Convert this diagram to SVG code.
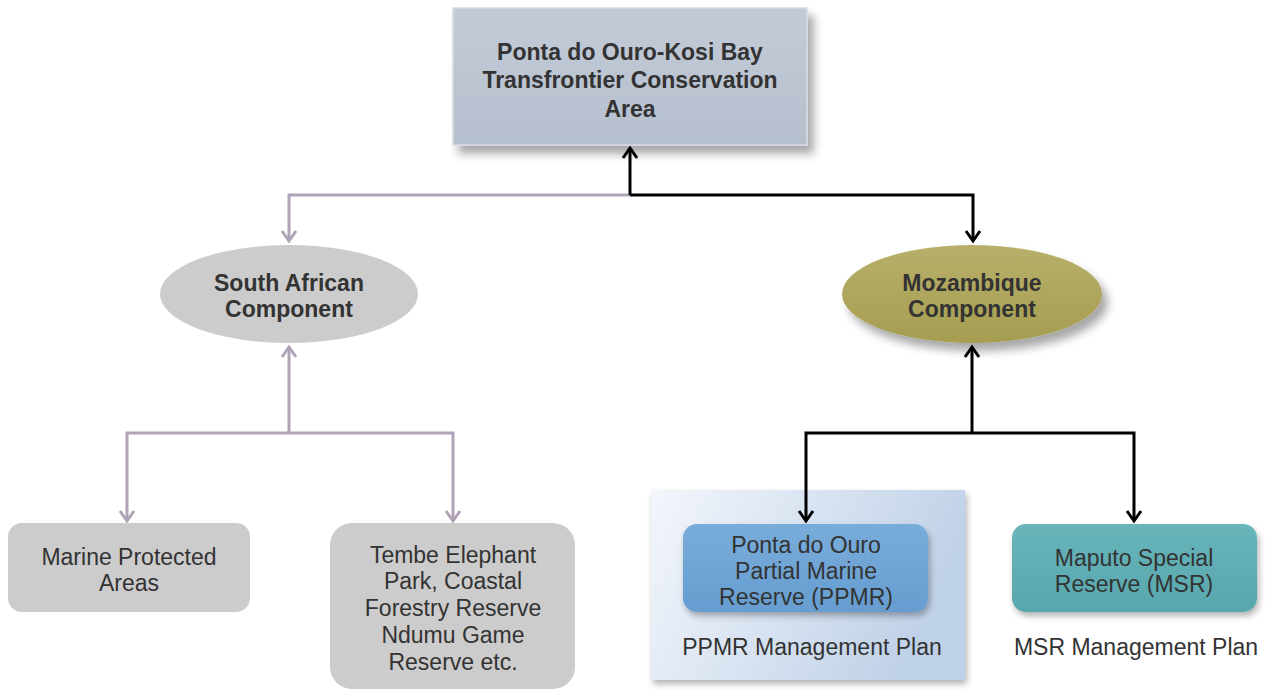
<svg xmlns="http://www.w3.org/2000/svg" width="1270" height="690" viewBox="0 0 1270 690">
<defs>
<style>
text{font-family:"Liberation Sans",Arial,sans-serif;text-anchor:middle;fill:#333333}
.b{font-weight:bold;font-size:23px}
.r{font-size:23px}
.grey{fill:none;stroke:#b0a3b7;stroke-width:3}
.blk{fill:none;stroke:#000;stroke-width:3}
</style>
<filter id="sh" x="-20%" y="-20%" width="150%" height="160%">
<feGaussianBlur in="SourceAlpha" stdDeviation="5"/>
<feOffset dx="6" dy="8" result="o"/>
<feComponentTransfer><feFuncA type="linear" slope="0.35"/></feComponentTransfer>
<feMerge><feMergeNode/><feMergeNode in="SourceGraphic"/></feMerge>
</filter>
<filter id="sh2" x="-20%" y="-20%" width="150%" height="160%">
<feGaussianBlur in="SourceAlpha" stdDeviation="3"/>
<feOffset dx="2" dy="4" result="o"/>
<feComponentTransfer><feFuncA type="linear" slope="0.3"/></feComponentTransfer>
<feMerge><feMergeNode/><feMergeNode in="SourceGraphic"/></feMerge>
</filter>
<linearGradient id="gTop" x1="0" y1="0" x2="0" y2="1"><stop offset="0" stop-color="#c3cbd8"/><stop offset="1" stop-color="#b6bfcd"/></linearGradient>
<linearGradient id="gMoz" x1="0" y1="0" x2="0" y2="1"><stop offset="0" stop-color="#b8b06a"/><stop offset="1" stop-color="#a59d50"/></linearGradient>
<linearGradient id="gPanel" x1="0" y1="0" x2="1" y2="0.3"><stop offset="0" stop-color="#f3f6fb"/><stop offset="1" stop-color="#bfd1e8"/></linearGradient>
<linearGradient id="gPP" x1="0" y1="0" x2="0" y2="1"><stop offset="0" stop-color="#78acda"/><stop offset="1" stop-color="#669dd0"/></linearGradient>
<linearGradient id="gMS" x1="0" y1="0" x2="0" y2="1"><stop offset="0" stop-color="#68b5ba"/><stop offset="1" stop-color="#57a7ad"/></linearGradient>
<marker id="ag" markerUnits="userSpaceOnUse" markerWidth="20" markerHeight="20" viewBox="0 0 20 20" refX="14" refY="10" orient="auto">
<path d="M4,3 L14,10 L4,17" fill="none" stroke="#b0a3b7" stroke-width="3"/>
</marker>
<marker id="ab" markerUnits="userSpaceOnUse" markerWidth="20" markerHeight="20" viewBox="0 0 20 20" refX="14" refY="10" orient="auto">
<path d="M4,3 L14,10 L4,17" fill="none" stroke="#000" stroke-width="3"/>
</marker>
</defs>
<rect width="1270" height="690" fill="#ffffff"/>

<g id="panel">
<rect x="651" y="490" width="314" height="190" fill="url(#gPanel)" filter="url(#sh2)"/>
</g>

<g id="connectors">
<path class="grey" d="M630,195 H289 V241" marker-end="url(#ag)"/>
<path class="blk" d="M630,195 V148" marker-end="url(#ab)"/>
<path class="blk" d="M630,195 H973 V241" marker-end="url(#ab)"/>
<path class="grey" d="M289,433 V347" marker-end="url(#ag)"/>
<path class="grey" d="M289,433 H127 V521" marker-end="url(#ag)"/>
<path class="grey" d="M289,433 H453 V521" marker-end="url(#ag)"/>
<path class="blk" d="M972,433 V347" marker-end="url(#ab)"/>
<path class="blk" d="M972,433 H806 V521" marker-end="url(#ab)"/>
<path class="blk" d="M972,433 H1134 V521" marker-end="url(#ab)"/>
</g>

<g id="top">
<rect x="453" y="8" width="354" height="137" fill="url(#gTop)" stroke="#d5dbe4" stroke-width="1.5" filter="url(#sh)"/>
<text class="b" x="630" y="60">Ponta do Ouro-Kosi Bay</text>
<text class="b" x="630" y="88">Transfrontier Conservation</text>
<text class="b" x="630" y="117">Area</text>
</g>

<g id="sa">
<ellipse cx="289" cy="294" rx="129" ry="49" fill="#cccccc"/>
<text class="b" x="289" y="291">South African</text>
<text class="b" x="289" y="317">Component</text>
</g>

<g id="moz">
<ellipse cx="972" cy="294" rx="130" ry="49" fill="url(#gMoz)" filter="url(#sh)"/>
<text class="b" x="972" y="291">Mozambique</text>
<text class="b" x="972" y="317">Component</text>
</g>

<g id="mpa">
<rect x="8" y="523" width="242" height="89" rx="14" fill="#cccccc"/>
<text class="r" x="129" y="565">Marine Protected</text>
<text class="r" x="129" y="591">Areas</text>
</g>

<g id="tembe">
<rect x="330" y="523" width="245" height="166" rx="22" fill="#cccccc"/>
<text class="r" x="453" y="563">Tembe Elephant</text>
<text class="r" x="453" y="589">Park, Coastal</text>
<text class="r" x="453" y="616">Forestry Reserve</text>
<text class="r" x="453" y="643">Ndumu Game</text>
<text class="r" x="453" y="670">Reserve etc.</text>
</g>

<g id="ppmr">
<rect x="683" y="524" width="245" height="88" rx="14" fill="url(#gPP)" filter="url(#sh2)"/>
<text class="r" x="806" y="553">Ponta do Ouro</text>
<text class="r" x="806" y="579">Partial Marine</text>
<text class="r" x="806" y="605">Reserve (PPMR)</text>
<text class="r" x="812" y="655">PPMR Management Plan</text>
</g>

<g id="msr">
<rect x="1012" y="524" width="245" height="88" rx="14" fill="url(#gMS)" filter="url(#sh2)"/>
<text class="r" x="1134" y="566">Maputo Special</text>
<text class="r" x="1134" y="592">Reserve (MSR)</text>
<text class="r" x="1136" y="655">MSR Management Plan</text>
</g>
</svg>
